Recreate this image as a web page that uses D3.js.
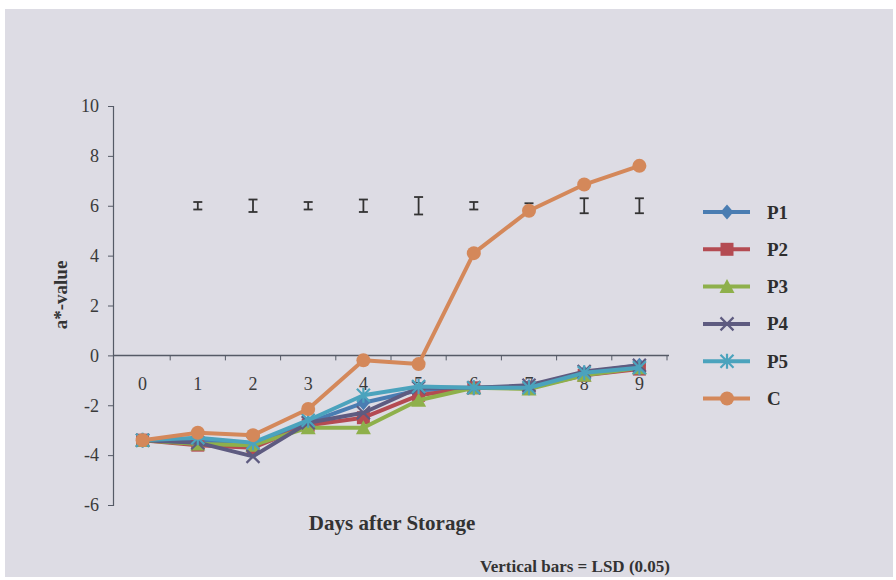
<!DOCTYPE html>
<html>
<head>
<meta charset="utf-8">
<script src="https://cdn.jsdelivr.net/npm/d3@7"></script>
<style>
  html, body { margin: 0; padding: 0; background: #ffffff; }
  svg { display: block; }
</style>
</head>
<body>
<svg id="chart" width="896" height="580"></svg>
<script>
// Days after storage (categories)
const days = ["0", "1", "2", "3", "4", "5", "6", "7", "8", "9"];

// a*-value per treatment
const seriesNames = ["P1", "P2", "P3", "P4", "P5", "C"];
const p1 = [-3.4, -3.4, -3.6, -2.7, -1.9, -1.4, -1.3, -1.25, -0.7, -0.4];
const p2 = [-3.4, -3.6, -3.7, -2.8, -2.5, -1.6, -1.3, -1.3, -0.8, -0.55];
const p3 = [-3.4, -3.55, -3.6, -2.9, -2.9, -1.8, -1.3, -1.35, -0.8, -0.5];
const p4 = [-3.4, -3.5, -4.05, -2.7, -2.3, -1.3, -1.3, -1.2, -0.65, -0.4];
const p5 = [-3.4, -3.3, -3.5, -2.6, -1.6, -1.25, -1.3, -1.3, -0.7, -0.5];
const cc = [-3.4, -3.1, -3.2, -2.15, -0.2, -0.35, 4.1, 5.8, 6.85, 7.6];

// LSD (0.05) bars, drawn at a*-value 6 for days 1..9
const lsdDays = ["1", "2", "3", "4", "5", "6", "7", "8", "9"];
const lsdValues = [0.3, 0.5, 0.3, 0.5, 0.7, 0.3, 0.2, 0.6, 0.6];
const lsdLevel = 6;

const yTicks = [-6, -4, -2, 0, 2, 4, 6, 8, 10];

const allSeries = [p1, p2, p3, p4, p5, cc];
const colors = ["#4a7db2", "#b44b52", "#8eb04b", "#5e5b80", "#4ba3bd", "#d4885a"];
const markers = ["diamond", "square", "triangle", "x", "star", "circle"];

const svg = d3.select("#chart");

// page background panel
svg.append("rect").attr("x", 0).attr("y", 0).attr("width", 896).attr("height", 580).attr("fill", "#ffffff");
svg.append("rect").attr("x", 5).attr("y", 9).attr("width", 888).attr("height", 568).attr("fill", "#dddce4");

const x = d3.scaleBand().domain(days).range([115, 667]);
const y = d3.scaleLinear().domain([-6, 10]).range([505, 106]);

const font = "'Liberation Serif', 'Times New Roman', serif";
const axisColor = "#555a66";
const textColor = "#3a3a3a";

// y axis (plain hyphen for negative labels)
const yAxis = svg.append("g").attr("transform", "translate(113,0)")
  .call(d3.axisLeft(y).tickValues(yTicks).tickSize(5).tickPadding(9).tickFormat(d => String(d)));
yAxis.select(".domain").attr("stroke", axisColor).attr("stroke-width", 1.2);
yAxis.selectAll(".tick line").attr("stroke", axisColor);
yAxis.selectAll(".tick text").attr("font-family", font).attr("font-size", 18).attr("fill", textColor);

// x axis at a*-value 0, ticks between categories
const xAxis = svg.append("g").attr("transform", `translate(0,${y(0)})`);
xAxis.append("line").attr("x1", 113).attr("x2", x.range()[1] + 2)
  .attr("stroke", axisColor).attr("stroke-width", 1.5);
xAxis.selectAll("line.tk").data(days.slice(1).concat(["end"])).join("line").attr("class", "tk")
  .attr("x1", (d, i) => x.range()[0] + x.bandwidth() * (i + 1))
  .attr("x2", (d, i) => x.range()[0] + x.bandwidth() * (i + 1))
  .attr("y1", 0).attr("y2", 5).attr("stroke", axisColor);
xAxis.selectAll("text").data(days).join("text")
  .attr("x", d => x(d) + x.bandwidth() / 2)
  .attr("y", 35)
  .attr("text-anchor", "middle")
  .attr("font-family", font).attr("font-size", 18).attr("fill", textColor)
  .text(d => d);

// LSD bars
const lsd = svg.append("g");
lsdDays.forEach((d, i) => {
  const cx = x(d) + x.bandwidth() / 2;
  const top = y(lsdLevel + lsdValues[i] / 2);
  const bot = y(lsdLevel - lsdValues[i] / 2);
  lsd.append("line").attr("x1", cx).attr("x2", cx).attr("y1", top).attr("y2", bot)
    .attr("stroke", "#333").attr("stroke-width", 1.8);
  [top, bot].forEach(yy => lsd.append("line").attr("x1", cx - 4.5).attr("x2", cx + 4.5)
    .attr("y1", yy).attr("y2", yy).attr("stroke", "#333").attr("stroke-width", 1.8));
});

function drawMarker(g, type, cx, cy, color) {
  const s = 6.5;
  if (type === "diamond") {
    g.append("path").attr("d", `M${cx},${cy - s - 1}L${cx + s},${cy}L${cx},${cy + s + 1}L${cx - s},${cy}Z`).attr("fill", color);
  } else if (type === "square") {
    g.append("rect").attr("x", cx - s).attr("y", cy - s).attr("width", 2 * s).attr("height", 2 * s).attr("fill", color);
  } else if (type === "triangle") {
    g.append("path").attr("d", `M${cx},${cy - s - 1}L${cx + s + 1},${cy + s}L${cx - s - 1},${cy + s}Z`).attr("fill", color);
  } else if (type === "x") {
    g.append("path").attr("d", `M${cx - s},${cy - s}L${cx + s},${cy + s}M${cx - s},${cy + s}L${cx + s},${cy - s}`)
      .attr("stroke", color).attr("stroke-width", 2.2);
  } else if (type === "star") {
    g.append("path").attr("d", `M${cx - s},${cy - s}L${cx + s},${cy + s}M${cx - s},${cy + s}L${cx + s},${cy - s}M${cx},${cy - s - 1}L${cx},${cy + s + 1}`)
      .attr("stroke", color).attr("stroke-width", 2.2);
  } else {
    g.append("circle").attr("cx", cx).attr("cy", cy).attr("r", s + 0.5).attr("fill", color);
  }
}

// series lines and markers
const line = d3.line().x((d, i) => x(days[i]) + x.bandwidth() / 2).y(d => y(d));
allSeries.forEach((vals, k) => {
  const g = svg.append("g");
  g.append("path").datum(vals).attr("d", line).attr("fill", "none")
    .attr("stroke", colors[k]).attr("stroke-width", 4).attr("stroke-linejoin", "round");
  vals.forEach((v, i) => drawMarker(g, markers[k], x(days[i]) + x.bandwidth() / 2, y(v), colors[k]));
});

// legend
const legend = svg.append("g");
seriesNames.forEach((name, k) => {
  const ly = 212 + k * 37.3;
  legend.append("line").attr("x1", 703).attr("x2", 750).attr("y1", ly).attr("y2", ly)
    .attr("stroke", colors[k]).attr("stroke-width", 4);
  drawMarker(legend, markers[k], 727, ly, colors[k]);
  legend.append("text").attr("x", 767).attr("y", ly + 6.5)
    .attr("font-family", font).attr("font-size", 19).attr("font-weight", "bold").attr("fill", "#2e2e2e")
    .text(name);
});

// axis titles
svg.append("text").attr("transform", `translate(67,295) rotate(-90)`)
  .attr("text-anchor", "middle").attr("font-family", font).attr("font-size", 19)
  .attr("font-weight", "bold").attr("fill", "#333").text("a*-value");
svg.append("text").attr("x", 392).attr("y", 530).attr("text-anchor", "middle")
  .attr("font-family", font).attr("font-size", 21).attr("font-weight", "bold").attr("fill", "#333")
  .text("Days after Storage");
svg.append("text").attr("x", 575).attr("y", 572).attr("text-anchor", "middle")
  .attr("font-family", font).attr("font-size", 17).attr("font-weight", "bold").attr("fill", "#333")
  .text("Vertical bars = LSD (0.05)");
</script>
</body>
</html>
